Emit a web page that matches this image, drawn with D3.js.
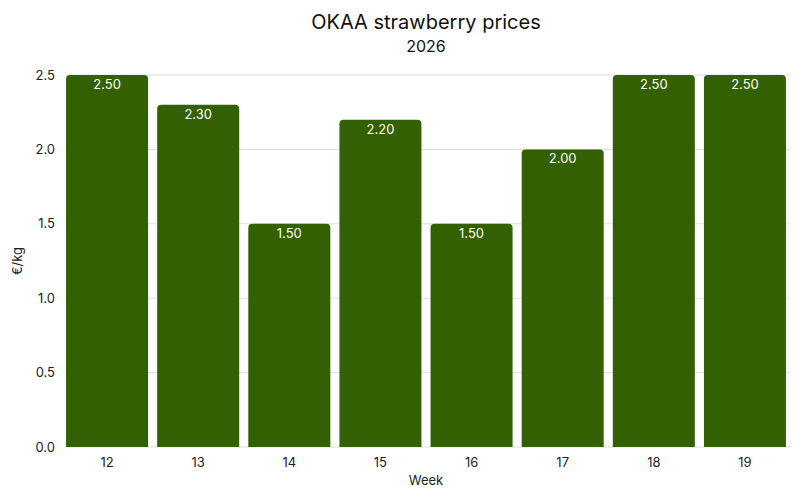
<!DOCTYPE html>
<html><head><meta charset="utf-8">
<script src="https://cdn.jsdelivr.net/npm/d3@7"></script>
<style>body{margin:0;background:#fff;font-family:Inter,sans-serif}</style>
</head><body><svg id="c" width="800" height="500"></svg>
<script>
const weeks = ["12","13","14","15","16","17","18","19"];
const prices = [2.5,2.3,1.5,2.2,1.5,2.0,2.5,2.5];
const yTicks = [0,0.5,1.0,1.5,2.0,2.5];
const title = "OKAA strawberry prices";
const subtitle = "2026";

const svg = d3.select("#c");
const m = {l:61.5, r:9.5, t:75, b:53};
const W = 800, H = 500;
const x = d3.scaleBand().domain(weeks).range([m.l, W-m.r]).paddingInner(0.1).paddingOuter(0.05);
const y = d3.scaleLinear().domain([0,2.5]).range([H-m.b, m.t]);

svg.append("g").selectAll("line").data(yTicks).join("line")
  .attr("x1", m.l+4).attr("x2", W-m.r).attr("y1", d=>y(d)).attr("y2", d=>y(d))
  .attr("stroke","#dcdcdc").attr("stroke-width",1);

svg.append("g").selectAll("text").data(yTicks).join("text")
  .attr("x", 55).attr("y", d=>y(d)).attr("dy","0.35em").attr("text-anchor","end")
  .attr("font-size",13).attr("fill","#222").text(d=>d.toFixed(1));

const r = 4;
svg.append("g").selectAll("path").data(weeks).join("path")
  .attr("fill","#336000")
  .attr("d",(w,i)=>{
    const x0=x(w), x1=x(w)+x.bandwidth(), y0=y(0), y1=y(prices[i]);
    return `M${x0},${y0}V${y1+r}Q${x0},${y1} ${x0+r},${y1}H${x1-r}Q${x1},${y1} ${x1},${y1+r}V${y0}Z`;
  });

svg.append("g").selectAll("text").data(weeks).join("text")
  .attr("x", w=>x(w)+x.bandwidth()/2).attr("y",(w,i)=>y(prices[i])+14)
  .attr("text-anchor","middle").attr("font-size",13).attr("fill","#fff")
  .text((w,i)=>prices[i].toFixed(2));

svg.append("g").selectAll("text").data(weeks).join("text")
  .attr("x", w=>x(w)+x.bandwidth()/2).attr("y", 467)
  .attr("text-anchor","middle").attr("font-size",13).attr("fill","#222").text(w=>w);

const cx = (m.l + W - m.r)/2;
svg.append("text").attr("x",cx).attr("y",485).attr("text-anchor","middle")
  .attr("font-size",13).attr("fill","#222").text("Week");
svg.append("text").attr("transform",`translate(22,${(y(0)+y(2.5))/2}) rotate(-90)`)
  .attr("text-anchor","middle").attr("font-size",13).attr("fill","#222").text("€/kg");
svg.append("text").attr("x",cx).attr("y",29).attr("text-anchor","middle")
  .attr("font-size",20).attr("fill","#111").text(title);
svg.append("text").attr("x",cx).attr("y",52).attr("text-anchor","middle")
  .attr("font-size",16).attr("fill","#111").text(subtitle);
</script></body></html>
